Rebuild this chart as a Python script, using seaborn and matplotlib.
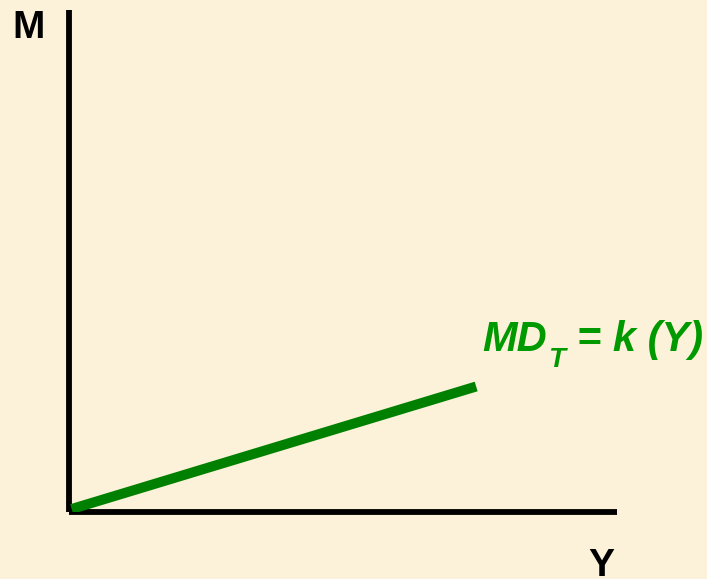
import matplotlib
matplotlib.use("Agg")
import matplotlib.pyplot as plt
import seaborn as sns
import pandas as pd

# Transactions demand for money: MD_T = k(Y)
income = [0.05, 7.43]
money_demand = [0.06, 2.5]

sns.set_theme(style="white")
plt.rcParams["font.family"] = ["Liberation Sans", "DejaVu Sans"]

bg = "#FCF2DA"
green_line = "#008000"
green_text = "#009900"

fig = plt.figure(figsize=(7.07, 5.79), dpi=100, facecolor=bg)
ax = fig.add_axes([69 / 707, 1 - 512 / 579, (617 - 69) / 707, (512 - 10) / 579])
ax.set_facecolor(bg)

df = pd.DataFrame({"Y": income, "M": money_demand})
sns.lineplot(data=df, x="Y", y="M", ax=ax, color=green_line, linewidth=7.2,
             solid_capstyle="butt", zorder=3)

ax.set_xlim(0, 10)
ax.set_ylim(0, 10)
ax.set_xticks([])
ax.set_yticks([])
ax.set_xlabel("")
ax.set_ylabel("")
for side in ("top", "right"):
    ax.spines[side].set_visible(False)
for side in ("left", "bottom"):
    ax.spines[side].set_color("black")
    ax.spines[side].set_linewidth(4.2)
    ax.spines[side].set_capstyle("butt")

# Axis names
fig.text(29 / 707, 1 - 28 / 579, "M", fontsize=28, fontweight="bold",
         ha="center", va="center", color="black")
fig.text(601 / 707, 1 - 576 / 579, "Y", fontsize=28, fontweight="bold",
         ha="center", va="baseline", color="black")

# Curve label, MD with subscript T
label_style = dict(fontweight="bold", fontstyle="italic", color=green_text,
                   ha="left", va="baseline")
fig.text(482 / 707, 1 - 351 / 579, "MD", fontsize=30, **label_style)
fig.text(548 / 707, 1 - 367 / 579, "T", fontsize=20, **label_style)
fig.text(577 / 707, 1 - 351 / 579, "= k (Y)", fontsize=30, **label_style)

fig.savefig("out.png", dpi=100, facecolor=bg)
